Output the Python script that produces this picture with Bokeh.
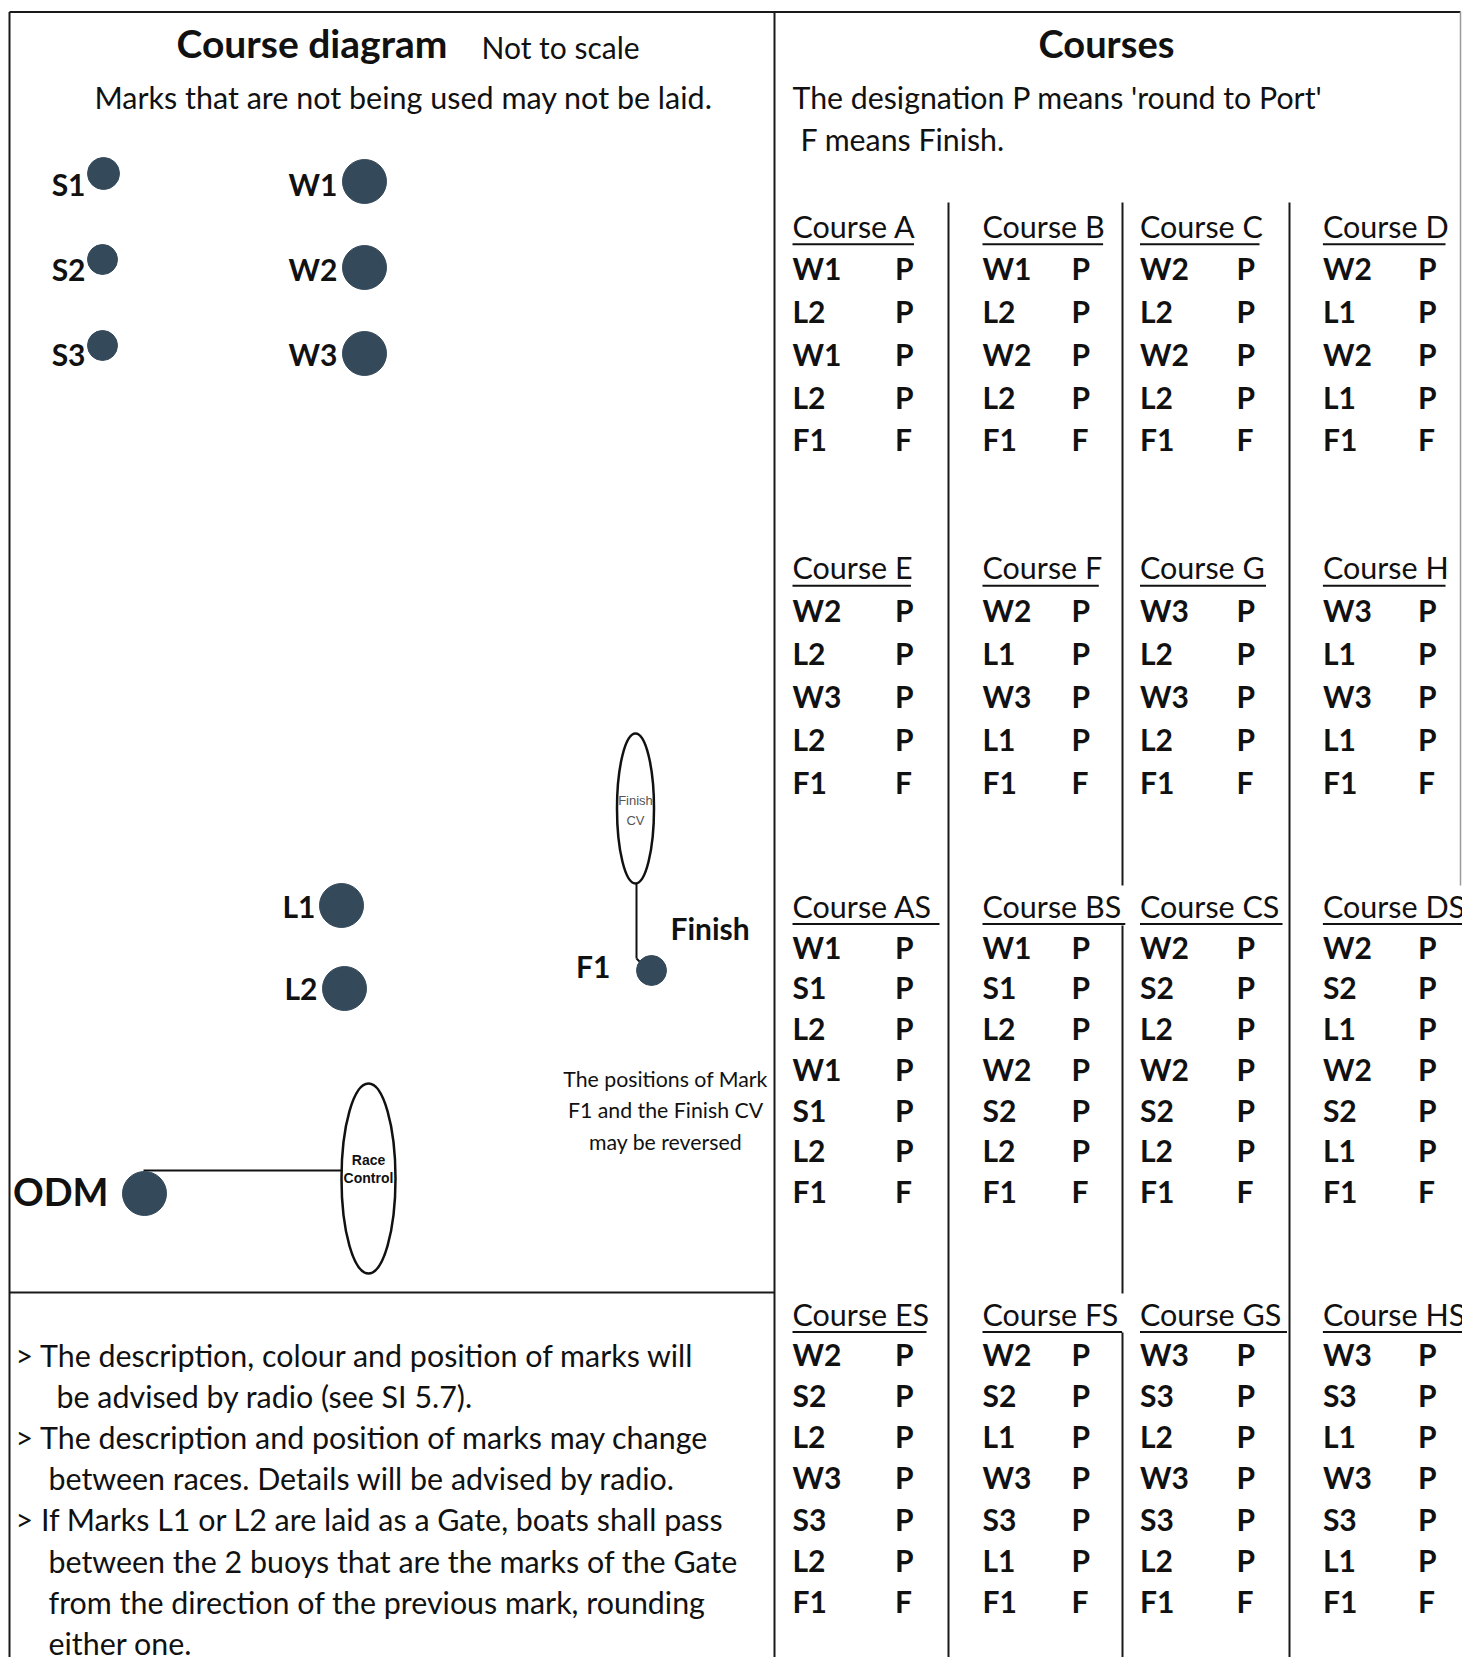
from bokeh.plotting import figure
from bokeh.models import Range1d
from bokeh.embed import file_html
from bokeh.resources import INLINE
from bokeh.core.properties import value

# ---------------- data ----------------
# course marks (diagram), in reference pixel space
mark_names = ["S1", "S2", "S3", "W1", "W2", "W3", "L1", "L2", "F1", "ODM"]
mark_x = [103, 102, 102, 364, 364, 364, 341, 344, 651, 144]
mark_y = [173, 259, 345, 181, 267, 353, 905, 988, 970, 1193]
mark_r = [16, 15, 15, 22, 22, 22, 22, 22, 15, 22]
label_x = [85, 85, 85, 337, 337, 337, 315, 317, 610, 108]
label_y = [185, 270, 355, 185, 270, 355, 907, 989, 967, 1192]

course_names = ["A", "B", "C", "D", "E", "F", "G", "H",
                "AS", "BS", "CS", "DS", "ES", "FS", "GS", "HS"]
course_A = ["W1", "L2", "W1", "L2", "F1"]
course_B = ["W1", "L2", "W2", "L2", "F1"]
course_C = ["W2", "L2", "W2", "L2", "F1"]
course_D = ["W2", "L1", "W2", "L1", "F1"]
course_E = ["W2", "L2", "W3", "L2", "F1"]
course_F = ["W2", "L1", "W3", "L1", "F1"]
course_G = ["W3", "L2", "W3", "L2", "F1"]
course_H = ["W3", "L1", "W3", "L1", "F1"]
course_AS = ["W1", "S1", "L2", "W1", "S1", "L2", "F1"]
course_BS = ["W1", "S1", "L2", "W2", "S2", "L2", "F1"]
course_CS = ["W2", "S2", "L2", "W2", "S2", "L2", "F1"]
course_DS = ["W2", "S2", "L1", "W2", "S2", "L1", "F1"]
course_ES = ["W2", "S2", "L2", "W3", "S3", "L2", "F1"]
course_FS = ["W2", "S2", "L1", "W3", "S3", "L1", "F1"]
course_GS = ["W3", "S3", "L2", "W3", "S3", "L2", "F1"]
course_HS = ["W3", "S3", "L1", "W3", "S3", "L1", "F1"]
course_lists = [course_A, course_B, course_C, course_D, course_E, course_F,
                course_G, course_H, course_AS, course_BS, course_CS, course_DS,
                course_ES, course_FS, course_GS, course_HS]

note_lines = [
    "> The description, colour and position of marks will",
    "be advised by radio (see SI 5.7).",
    "> The description and position of marks may change",
    "between races.  Details will be advised by radio.",
    "> If Marks L1 or L2 are laid as a Gate, boats shall pass",
    "between the 2 buoys that are the marks of the Gate",
    "from the direction of the previous mark, rounding",
    "either one.",
]
reverse_note = ["The positions of Mark", "F1 and the Finish CV", "may be reversed"]

# ---------------- layout ----------------
FONT = "Lato"
DOT = "#34495A"
W, H = 1462, 1657
DY = -2  # baseline correction for Lato

p = figure(width=W, height=H, x_range=Range1d(0, W), y_range=Range1d(H, 0),
           output_backend="svg", toolbar_location=None, min_border=0)
p.axis.visible = False
p.grid.visible = False
p.outline_line_color = None
p.background_fill_color = "white"
p.border_fill_color = "white"


def txt(x, y, s, size, bold=False, align="left", color="#111111", font=FONT, dy=DY):
    p.text(x=[x], y=[y + dy], text=[s], text_font=value(font), text_font_size=value(f"{size}px"),
           text_font_style="bold" if bold else "normal", text_align=align,
           text_baseline="middle", text_color=color)


# frame lines
fx0 = [9, 9, 774, 9, 948, 1289, 1122, 1122, 1122, 1460]
fy0 = [11.5, 11.5, 11.5, 1292, 202, 202, 202, 925, 1332, 11.5]
fx1 = [1460, 9, 774, 774, 948, 1289, 1122, 1122, 1122, 1460]
fy1 = [11.5, 1657, 1657, 1292, 1657, 1657, 885, 1293, 1657, 885]
p.segment(x0=fx0[:9], y0=fy0[:9], x1=fx1[:9], y1=fy1[:9], line_color="#1a1a1a", line_width=2)
p.segment(x0=fx0[9:], y0=fy0[9:], x1=fx1[9:], y1=fy1[9:], line_color="#9a9a9a", line_width=1.5)

# ---------- left panel ----------
txt(176, 44, "Course diagram", 39, bold=True)
txt(481, 48, "Not to scale", 30)
txt(403, 98, "Marks that are not being used may not be laid.", 30.5, align="center")

# connectors
p.segment(x0=[636, 636, 143], y0=[883, 958, 1170], x1=[636, 640, 341], y1=[958, 962, 1170],
          line_color="#111111", line_width=2)

# ellipses
p.ellipse(x=[635, 368], y=[808, 1178], width=[37, 54], height=[150, 190],
          fill_color="white", line_color="#111111", line_width=2.5)
txt(635, 800, "Finish", 13, color="#555555", align="center", font="Liberation Sans", dy=0)
txt(635, 820, "CV", 13, color="#555555", align="center", font="Liberation Sans", dy=0)
txt(368, 1159, "Race", 14, bold=True, align="center", font="Liberation Sans", dy=0)
txt(368, 1177, "Control", 14, bold=True, align="center", font="Liberation Sans", dy=0)

# marks
p.circle(x=mark_x, y=mark_y, radius=mark_r, fill_color=DOT, line_color=DOT)
for i, nm in enumerate(mark_names):
    size = 38 if nm == "ODM" else 30
    txt(label_x[i], label_y[i], nm, size, bold=True, align="right")

txt(670, 929, "Finish", 30, bold=True)
for i, s in enumerate(reverse_note):
    txt(665, 1080 + 31.7 * i, s, 21.3, align="center")

# notes
note_x = [15, 56, 15, 48, 15, 48, 48, 48]
for i, s in enumerate(note_lines):
    txt(note_x[i], 1356 + 41.2 * i, s, 30.4)

# ---------- right panel ----------
txt(1106, 44, "Courses", 38, bold=True, align="center")
txt(792, 98, "The designation P means 'round to Port'", 30.3)
txt(800, 140, "F means Finish.", 30.3)

col_x = [792, 982, 1139.5, 1322.4]
col_p_x = [894.5, 1071, 1236, 1417.6]
block_header_y = [227.3, 568.7, 907, 1315]
block_first_y = [269.6, 611, 948.2, 1355.2]
block_step = [42.8, 43.1, 40.7, 41.2]
underline_w = [121.5, 120.6, 119.5, 122.6, 118.4, 116.3, 126, 122.6,
               147, 142.8, 142.5, 145, 134, 139.6, 147, 145]

ux0, ux1, uy = [], [], []
for k, (name, marks) in enumerate(zip(course_names, course_lists)):
    blk = (k // 4) if k < 8 else 2 + (k - 8) // 4
    col = k % 4
    hx, hy = col_x[col], block_header_y[blk]
    txt(hx, hy, "Course " + name, 30.5)
    ux0.append(hx)
    ux1.append(hx + underline_w[k])
    uy.append(hy + 16.5)
    for r, m in enumerate(marks):
        yy = block_first_y[blk] + block_step[blk] * r
        txt(hx, yy, m, 30, bold=True)
        txt(col_p_x[col], yy, "F" if m == "F1" else "P", 30, bold=True)
p.segment(x0=ux0, y0=uy, x1=ux1, y1=uy, line_color="#111111", line_width=2)

open("out.html", "w").write(file_html(p, INLINE))
